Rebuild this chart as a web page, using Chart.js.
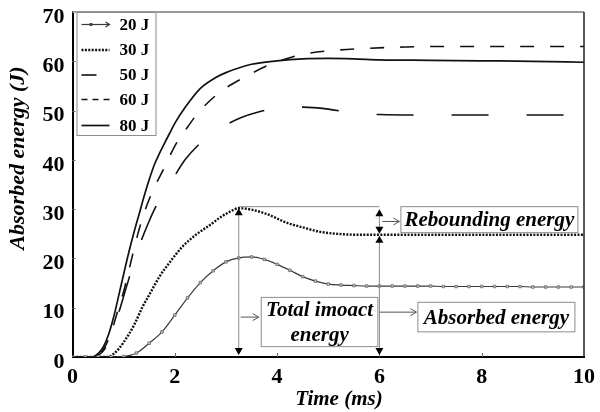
<!DOCTYPE html>
<html>
<head>
<meta charset="utf-8">
<script src="https://cdn.jsdelivr.net/npm/chart.js@4.4.1/dist/chart.umd.min.js"></script>
<style>
  html, body { margin: 0; padding: 0; background: #fff; }
  #wrap { width: 600px; height: 412px; }
</style>
</head>
<body>
<div id="wrap"><canvas id="c" width="600" height="412"></canvas></div>
<script>
// Axis ticks
const xTicks = [0, 2, 4, 6, 8, 10];
const yTicks = [0, 10, 20, 30, 40, 50, 60, 70];

// Absorbed energy (J) versus time (ms) for each impact energy
const t20 = [0, 0.25, 0.5, 0.75, 1.0, 1.25, 1.5, 1.75, 2.0, 2.25, 2.5, 2.75, 3.0, 3.25, 3.5, 3.75, 4.0, 4.25, 4.5, 4.75, 5.0,
             5.25, 5.5, 5.75, 6.0, 6.25, 6.5, 6.75, 7.0, 7.25, 7.5, 7.75, 8.0, 8.25, 8.5, 8.75, 9.0, 9.25, 9.5, 9.75, 10.0];
const e20 = [0, 0, 0, 0, 0.1, 0.8, 2.8, 5.1, 8.5, 12.0, 15.1, 17.5, 19.3, 20.1, 20.3, 19.8, 18.8, 17.6, 16.3, 15.4, 14.8,
             14.6, 14.5, 14.4, 14.4, 14.4, 14.4, 14.4, 14.4, 14.3, 14.3, 14.3, 14.3, 14.3, 14.3, 14.3, 14.2, 14.2, 14.2, 14.2, 14.2];

const t30 = [0, 0.7, 0.8, 0.9, 1.0, 1.2, 1.37, 1.5, 1.7, 1.9, 2.15, 2.4, 2.69, 2.9, 3.1, 3.25, 3.5, 3.8, 4.2, 4.5, 4.84, 5.3, 5.6, 6, 7, 8, 9, 10];
const e30 = [0, 0, 0.6, 1.6, 3.0, 6.4, 10.2, 12.6, 16.3, 19.2, 22.4, 24.7, 26.8, 28.4, 29.6, 30.2, 29.9, 29.0, 27.2, 26.3, 25.4, 24.9, 24.8, 24.8, 24.8, 24.8, 24.8, 24.8];

const t50 = [0, 0.4, 0.5, 0.6, 0.7, 0.8, 0.9, 1.0, 1.1, 1.2, 1.3, 1.4, 1.5, 1.6, 1.7, 1.8, 2.0, 2.2, 2.5, 2.8, 3.0, 3.3, 3.6, 4.0, 4.5, 5.0, 5.5, 6, 7, 8, 9, 10];
const e50 = [0, 0, 0.4, 1.2, 3.0, 5.9, 8.9, 12.3, 15.8, 19.3, 22.4, 25.1, 27.6, 29.9, 31.8, 33.6, 36.8, 40.0, 43.4, 45.9, 47.1, 48.6, 49.6, 50.5, 50.7, 50.3, 49.5, 49.2, 49.1, 49.1, 49.1, 49.1];

const t60 = [0, 0.4, 0.5, 0.6, 0.7, 0.8, 0.9, 1.0, 1.1, 1.2, 1.3, 1.4, 1.5, 1.6, 1.8, 2.0, 2.2, 2.43, 2.84, 3.35, 3.9, 4.5, 5.1, 5.7, 6.5, 7, 8, 9, 10];
const e60 = [0, 0, 0.5, 1.5, 3.5, 6.4, 9.9, 13.3, 17.5, 21.8, 25.8, 29.2, 32.0, 34.4, 38.5, 42.8, 45.9, 49.2, 53.4, 56.7, 59.5, 61.4, 62.2, 62.6, 62.9, 63.0, 63.0, 63.0, 63.0];

const t80 = [0, 0.4, 0.5, 0.6, 0.7, 0.8, 0.9, 1.0, 1.1, 1.2, 1.3, 1.4, 1.5, 1.6, 1.7, 1.8, 1.9, 2.0, 2.2, 2.5, 2.8, 3.0, 3.5, 4.0, 4.5, 5.0, 5.5, 6, 7, 8, 9, 10];
const e80 = [0, 0, 0.7, 2.0, 4.4, 7.9, 12.3, 16.8, 21.2, 25.2, 28.9, 32.6, 36.0, 39.0, 41.3, 43.4, 45.4, 47.4, 50.6, 54.5, 56.7, 57.7, 59.4, 60.1, 60.5, 60.6, 60.5, 60.3, 60.2, 60.1, 60.0, 59.8];

const seriesNames = ['20 J', '30 J', '50 J', '60 J', '80 J'];

// Time at which rebound / absorbed energy are read
const MEASURE_T = 6;

const SERIF = "'Liberation Serif', 'Times New Roman', serif";

const pts = (t, e) => t.map((v, i) => ({ x: v, y: e[i] }));

const lineBase = { fill: false, cubicInterpolationMode: 'monotone', pointRadius: 0, pointHoverRadius: 0 };

const datasets = [
  Object.assign({}, lineBase, {
    label: seriesNames[0], data: pts(t20, e20),
    borderColor: '#3a3a3a', borderWidth: 1.2,
    pointRadius: 1.8, pointStyle: 'rect', pointBackgroundColor: '#c8c8c8', pointBorderColor: '#666', pointBorderWidth: 0.8
  }),
  Object.assign({}, lineBase, {
    label: seriesNames[1], data: pts(t30, e30),
    borderColor: '#111', borderWidth: 2.4, borderDash: [2, 1.4]
  }),
  Object.assign({}, lineBase, {
    label: seriesNames[2], data: pts(t50, e50),
    borderColor: '#111', borderWidth: 1.6, borderDash: [37, 38]
  }),
  Object.assign({}, lineBase, {
    label: seriesNames[3], data: pts(t60, e60),
    borderColor: '#111', borderWidth: 1.6, borderDash: [14, 16]
  }),
  Object.assign({}, lineBase, {
    label: seriesNames[4], data: pts(t80, e80),
    borderColor: '#111', borderWidth: 1.7
  })
];

function triangle(ctx, x, y, dir, w, h) {
  // tip at (x, y); dir = -1 points up, +1 points down
  ctx.beginPath();
  ctx.moveTo(x, y);
  ctx.lineTo(x - w / 2, y - dir * h);
  ctx.lineTo(x + w / 2, y - dir * h);
  ctx.closePath();
  ctx.fill();
}

function chevronArrow(ctx, x1, y, x2) {
  ctx.beginPath();
  ctx.moveTo(x1, y);
  ctx.lineTo(x2, y);
  ctx.stroke();
  ctx.beginPath();
  ctx.moveTo(x2 - 6, y - 3.5);
  ctx.lineTo(x2, y);
  ctx.lineTo(x2 - 6, y + 3.5);
  ctx.stroke();
}

function textBox(ctx, x1, y1, x2, y2, lines, size) {
  ctx.fillStyle = '#fff';
  ctx.fillRect(x1, y1, x2 - x1, y2 - y1);
  ctx.strokeStyle = '#8c8c8c';
  ctx.lineWidth = 1;
  ctx.strokeRect(x1 + 0.5, y1 + 0.5, x2 - x1 - 1, y2 - y1 - 1);
  ctx.fillStyle = '#000';
  ctx.font = 'italic bold ' + size + 'px ' + SERIF;
  ctx.textAlign = 'center';
  ctx.textBaseline = 'middle';
  const cx = (x1 + x2) / 2;
  const step = (y2 - y1) / lines.length;
  lines.forEach((s, i) => ctx.fillText(s, cx, y1 + step * (i + 0.5) + 1));
}

// Plot frame, inner ticks, axis titles, legend and energy annotations
const decor = {
  id: 'decor',
  afterDatasetsDraw(chart) {
    const { ctx, chartArea: a, scales: { x, y } } = chart;
    const px = v => x.getPixelForValue(v);
    const py = v => y.getPixelForValue(v);
    ctx.save();

    // frame (top and right)
    ctx.strokeStyle = '#9a9a9a';
    ctx.lineWidth = 2;
    ctx.beginPath(); ctx.moveTo(a.left, a.top); ctx.lineTo(a.right, a.top); ctx.stroke();
    ctx.strokeStyle = '#222';
    ctx.lineWidth = 1.5;
    ctx.beginPath(); ctx.moveTo(a.right, a.top); ctx.lineTo(a.right, a.bottom); ctx.stroke();

    // small inner ticks
    ctx.strokeStyle = '#666';
    ctx.lineWidth = 1;
    xTicks.slice(1, -1).forEach(v => {
      const xx = Math.round(px(v)) + 0.5;
      ctx.beginPath(); ctx.moveTo(xx, a.bottom); ctx.lineTo(xx, a.bottom - 4); ctx.stroke();
    });
    yTicks.slice(1, -1).forEach(v => {
      const yy = Math.round(py(v)) + 0.5;
      ctx.beginPath(); ctx.moveTo(a.left, yy); ctx.lineTo(a.left + 3, yy); ctx.stroke();
    });

    // energy annotations for the 30 J curve
    const peakE = Math.max(...e30);
    const peakT = t30[e30.indexOf(peakE)];
    const restE = e30[e30.length - 1];
    const xa = px(peakT), xb = px(MEASURE_T);
    const yTop = py(peakE), yRest = py(restE), yZero = py(0);

    ctx.strokeStyle = '#8a8a8a';
    ctx.lineWidth = 1;
    // peak level to measuring time
    ctx.beginPath(); ctx.moveTo(xa, yTop - 1.5); ctx.lineTo(xb, yTop - 1.5); ctx.stroke();
    // total impact energy span
    ctx.beginPath(); ctx.moveTo(xa, yTop + 6); ctx.lineTo(xa, yZero - 7); ctx.stroke();
    // rebound span and absorbed span at measuring time
    ctx.beginPath(); ctx.moveTo(xb, yTop + 6); ctx.lineTo(xb, yRest - 6); ctx.stroke();
    ctx.beginPath(); ctx.moveTo(xb, yRest + 6); ctx.lineTo(xb, yZero - 7); ctx.stroke();

    ctx.fillStyle = '#000';
    triangle(ctx, xa, yTop, -1, 8, 7);
    triangle(ctx, xa, yZero - 2, 1, 8, 7);
    triangle(ctx, xb, yTop + 1, -1, 8, 7);
    triangle(ctx, xb, yRest - 1, 1, 8, 7);
    triangle(ctx, xb, yRest + 1, -1, 8, 7);
    triangle(ctx, xb, yZero - 2, 1, 8, 7);

    // pointers to the labels
    ctx.strokeStyle = '#555';
    const yReb = (yTop + yRest) / 2;
    chevronArrow(ctx, xb + 3, yReb, xb + 20);
    const yTot = py(8.1);
    chevronArrow(ctx, xa + 2, yTot, xa + 20);
    const yAbs = py(9.1);
    chevronArrow(ctx, xb, yAbs, xb + 37);

    // labels
    textBox(ctx, xb + 21, yTop - 2, xb + 199, yTop + 25, ['Rebounding energy'], 21);
    textBox(ctx, xa + 22, py(12.2), xb - 1, py(2.0), ['Total imoact', 'energy'], 21);
    textBox(ctx, xb + 38, py(11.2), xb + 196, py(5.0), ['Absorbed energy'], 21);

    // legend
    const lx = a.left + 4, ly = a.top, lw = 80, lh = 124;
    ctx.fillStyle = '#fff';
    ctx.fillRect(lx, ly, lw, lh);
    ctx.strokeStyle = '#8c8c8c';
    ctx.lineWidth = 1;
    ctx.strokeRect(lx + 0.5, ly + 0.5, lw - 1, lh - 1);
    const rows = [ly + 12.5, ly + 38, ly + 63, ly + 87.5, ly + 113.5];
    const x1 = lx + 5, x2 = lx + 33;
    rows.forEach((ry, i) => {
      const ds = datasets[i];
      ctx.save();
      ctx.strokeStyle = ds.borderColor;
      if (i === 0) {
        ctx.lineWidth = 1.2;
        ctx.beginPath(); ctx.moveTo(x1, ry); ctx.lineTo(x2, ry); ctx.stroke();
        ctx.fillStyle = '#444';
        ctx.fillRect(x1 + 8, ry - 1.5, 3, 3);
        ctx.beginPath(); ctx.moveTo(x2 - 4, ry - 2.5); ctx.lineTo(x2, ry); ctx.lineTo(x2 - 4, ry + 2.5); ctx.stroke();
      } else {
        ctx.lineWidth = ds.borderWidth;
        const dash = i === 1 ? [2, 1.4] : i === 2 ? [15, 40] : i === 3 ? [6, 5] : [];
        ctx.setLineDash(dash);
        ctx.beginPath(); ctx.moveTo(x1, ry); ctx.lineTo(x2, ry); ctx.stroke();
      }
      ctx.restore();
      ctx.fillStyle = '#000';
      ctx.font = 'bold 17px ' + SERIF;
      ctx.textAlign = 'left';
      ctx.textBaseline = 'middle';
      ctx.fillText(seriesNames[i], lx + 43, ry + 1);
    });

    // axis titles
    ctx.fillStyle = '#000';
    ctx.font = 'italic bold 21px ' + SERIF;
    ctx.textAlign = 'center';
    ctx.textBaseline = 'middle';
    ctx.fillText('Time (ms)', 339, 400);
    ctx.save();
    ctx.translate(18, 158);
    ctx.rotate(-Math.PI / 2);
    ctx.font = 'italic bold 22px ' + SERIF;
    ctx.fillText('Absorbed energy (J)', 0, 0);
    ctx.restore();

    ctx.restore();
  }
};

const tickFont = { family: SERIF, size: 22, weight: 'bold' };

function fixPadding(s) {
  s.paddingTop = 0; s.paddingBottom = 0; s.paddingLeft = 0; s.paddingRight = 0;
}

new Chart(document.getElementById('c'), {
  type: 'line',
  data: { datasets },
  options: {
    responsive: false,
    devicePixelRatio: 1,
    animation: false,
    layout: { padding: { top: 12, right: 16, left: 0, bottom: 0 } },
    plugins: { legend: { display: false }, tooltip: { enabled: false } },
    scales: {
      x: {
        type: 'linear', min: 0, max: 10,
        afterBuildTicks: s => { s.ticks = xTicks.map(v => ({ value: v })); },
        afterFit: s => { s.height = 55; fixPadding(s); },
        grid: { display: false, drawTicks: false },
        border: { display: true, color: '#000', width: 2 },
        ticks: { font: tickFont, color: '#000', padding: 7, maxRotation: 0, autoSkip: false }
      },
      y: {
        min: 0, max: 70,
        afterBuildTicks: s => { s.ticks = yTicks.map(v => ({ value: v })); },
        afterFit: s => { s.width = 72.5; fixPadding(s); },
        grid: { display: false, drawTicks: false },
        border: { display: true, color: '#000', width: 2 },
        ticks: { font: tickFont, color: '#000', padding: 8, labelOffset: 5, autoSkip: false }
      }
    }
  },
  plugins: [decor]
});
</script>
</body>
</html>
